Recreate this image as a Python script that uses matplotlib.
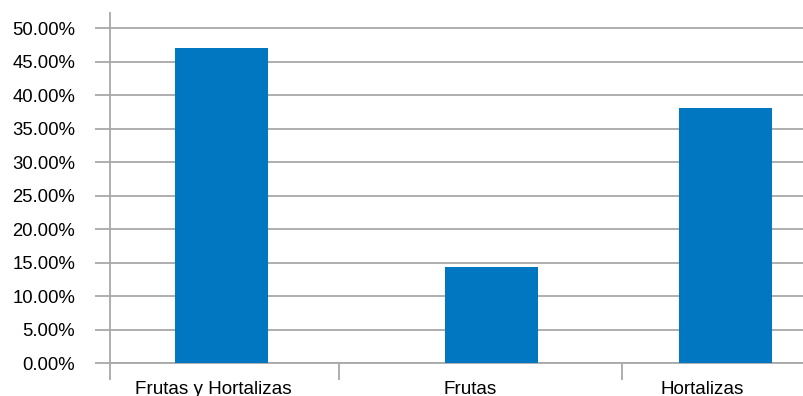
import matplotlib.pyplot as plt
from matplotlib.ticker import FuncFormatter

plt.rcParams['font.family'] = ['Liberation Sans', 'DejaVu Sans']

categorias = ['Frutas y Hortalizas', 'Frutas', 'Hortalizas']
porcentajes = [47.0, 14.4, 38.1]

# layout: bar centres, label centres and category separators (axis units)
pos_barras = [0.482, 1.649, 2.660]
pos_etiquetas = [0.445, 1.555, 2.560]
separadores = [0.0, 0.990, 2.214]

gris = '#a8a8a8'

fig = plt.figure(figsize=(8.04, 3.96), dpi=100)
ax = fig.add_axes([110 / 804, 1 - 363.3 / 396, 1 - 110 / 804, (363.3 - 13) / 396])

ax.bar(pos_barras, porcentajes, width=0.40, color='#0077c0', zorder=3)

ax.set_xlim(0, 3)
ax.set_ylim(0, 52.3)
ax.set_yticks(range(0, 51, 5))
ax.yaxis.set_major_formatter(FuncFormatter(lambda v, p: f'{v:.2f}%'))
ax.grid(axis='y', color=gris, linewidth=1.3, zorder=0)

ax.set_xticks(pos_etiquetas)
ax.set_xticklabels(categorias)
ax.set_xticks(separadores, minor=True)
ax.tick_params(axis='x', which='major', length=0, labelsize=13.6, pad=13)
ax.tick_params(axis='x', which='minor', length=12, width=1.3, color=gris)
ax.tick_params(axis='y', length=11, width=1.3, color=gris, labelsize=13.3, pad=14)

for lado in ['top', 'right']:
    ax.spines[lado].set_visible(False)
ax.spines['left'].set_color(gris)
ax.spines['left'].set_linewidth(1.3)
ax.spines['bottom'].set_color(gris)
ax.spines['bottom'].set_linewidth(1.3)

fig.savefig('out.png', dpi=100)
